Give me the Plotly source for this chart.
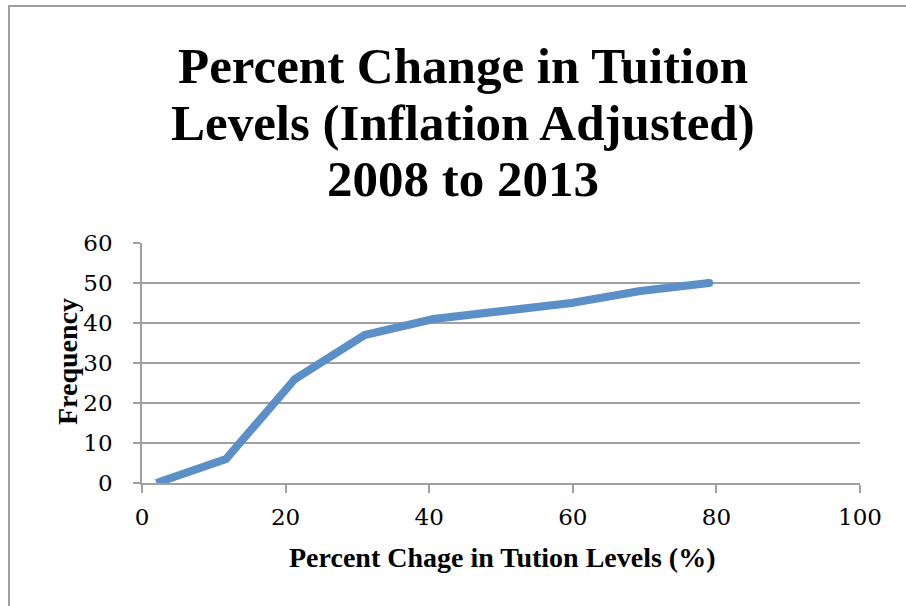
import plotly.graph_objects as go

# Data
pct_change = [2, 11.7, 21.3, 31, 40.6, 50.2, 59.8, 69.4, 79]
frequency = [0, 6, 26, 37, 41, 43, 45, 48, 50]
x_ticks = [0, 20, 40, 60, 80, 100]
y_ticks = [0, 10, 20, 30, 40, 50, 60]
title_lines = ["Percent Change in Tuition", "Levels (Inflation Adjusted)", "2008 to 2013"]
x_title = "Percent Chage in Tution Levels (%)"
y_title = "Frequency"

W, H = 906, 606
L, R, T, B = 142, 860, 243, 483  # plot area pixel bounds


def px(xp):
    return (xp - L) / (R - L)


def py(yp):
    return (B - yp) / (B - T)


LINE_COLOR = "#5b8fc8"
GRID = "#a0a0a0"

fig = go.Figure()
fig.add_trace(go.Scatter(x=pct_change, y=frequency, mode="lines",
                         line=dict(color=LINE_COLOR, width=8),
                         hoverinfo="x+y", showlegend=False))
fig.add_trace(go.Scatter(x=[pct_change[-1]], y=[frequency[-1]], mode="markers",
                         marker=dict(color=LINE_COLOR, size=8, line=dict(width=0)),
                         hoverinfo="skip", showlegend=False))

annotations = []
title_y = [66, 123, 179]
for txt, yp in zip(title_lines, title_y):
    annotations.append(dict(text=txt, x=px(463), y=py(yp), xref="paper", yref="paper",
                            xanchor="center", yanchor="middle", showarrow=False,
                            font=dict(family="Liberation Serif", size=51, color="black",
                                      weight="bold")))
annotations.append(dict(text=x_title, x=px(502), y=py(557), xref="paper", yref="paper",
                        xanchor="center", yanchor="middle", showarrow=False,
                        font=dict(family="Liberation Serif", size=28, color="black", weight="bold")))
annotations.append(dict(text=y_title, x=px(67), y=py(362), xref="paper", yref="paper",
                        xanchor="center", yanchor="middle", showarrow=False, textangle=-90,
                        font=dict(family="Liberation Serif", size=28, color="black", weight="bold")))

fig.update_layout(
    width=W, height=H,
    margin=dict(l=L, r=W - R, t=T, b=H - B, pad=0),
    paper_bgcolor="white", plot_bgcolor="white",
    annotations=annotations,
    shapes=[dict(type="rect", xref="paper", yref="paper",
                 x0=px(9), y0=py(6), x1=px(960), y1=py(660),
                 line=dict(color=GRID, width=2), layer="below")],
    xaxis=dict(range=[0, 100], tickvals=x_ticks, ticks="outside", ticklen=8,
               tickcolor=GRID, tickwidth=1.5, showgrid=False, zeroline=False,
               showline=True, linecolor=GRID, linewidth=1.5,
               tickfont=dict(family="DejaVu Serif", size=23, color="black"),
               ticklabelstandoff=5, fixedrange=True),
    yaxis=dict(range=[0, 60], tickvals=y_ticks, ticks="outside", ticklen=7,
               tickcolor=GRID, tickwidth=1.5, showgrid=True, gridcolor=GRID, gridwidth=1.5,
               zeroline=False, showline=True, linecolor=GRID, linewidth=1.5,
               tickfont=dict(family="DejaVu Serif", size=23, color="black"),
               ticklabelstandoff=16, fixedrange=True),
)

fig.write_html("out.html")
